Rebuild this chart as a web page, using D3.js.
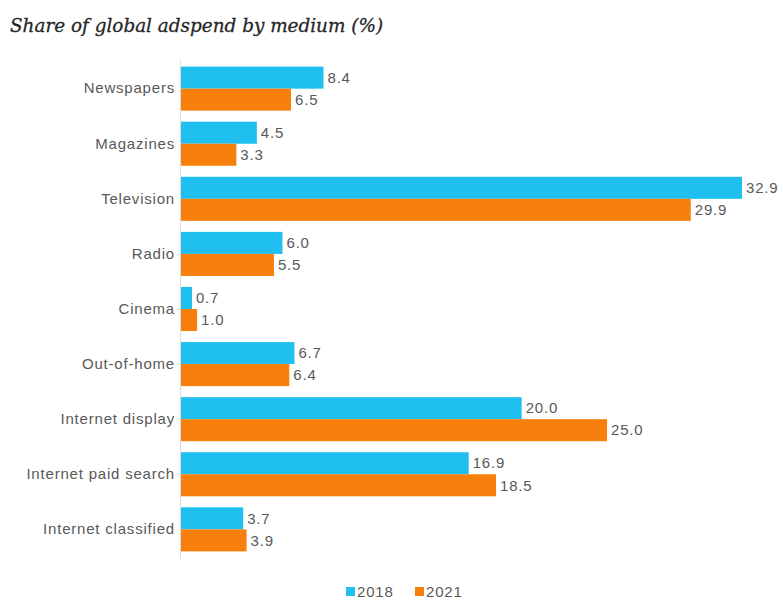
<!DOCTYPE html>
<html>
<head>
<meta charset="utf-8">
<script src="https://cdn.jsdelivr.net/npm/d3@7"></script>
<style>
  body { margin: 0; background: #fff; }
</style>
</head>
<body>
<svg id="chart" width="783" height="601"></svg>
<script>
const categories = ["Newspapers", "Magazines", "Television", "Radio", "Cinema", "Out-of-home", "Internet display", "Internet paid search", "Internet classified"];
const values2018 = [8.4, 4.5, 32.9, 6.0, 0.7, 6.7, 20.0, 16.9, 3.7];
const values2021 = [6.5, 3.3, 29.9, 5.5, 1.0, 6.4, 25.0, 18.5, 3.9];
const seriesKeys = ["2018", "2021"];
const colors = ["#1fc0f0", "#f77f0b"];

const data = categories.map((c, i) => ({ name: c, "2018": values2018[i], "2021": values2021[i] }));

const svg = d3.select("#chart"),
    margin = { top: 60, right: 40, bottom: 43, left: 180 },
    width = +svg.attr("width") - margin.left - margin.right,
    height = +svg.attr("height") - margin.top - margin.bottom,
    g = svg.append("g").attr("transform", "translate(" + margin.left + "," + margin.top + ")");

const labelFont = "'Liberation Sans', Arial, sans-serif";

// title
svg.append("text")
    .attr("x", 10)
    .attr("y", 32)
    .attr("font-family", "'DejaVu Serif', serif")
    .attr("font-style", "italic")
    .attr("font-size", 18.4)
    .attr("fill", "#262626")
    .attr("stroke", "#262626")
    .attr("stroke-width", 0.3)
    .text("Share of global adspend by medium (%)");

const y0 = d3.scaleBand()
    .domain(categories)
    .range([0, height])
    .paddingInner(0.2)
    .paddingOuter(0.12);

const y1 = d3.scaleBand()
    .domain(seriesKeys)
    .range([0, y0.bandwidth()]);

const x = d3.scaleLinear()
    .domain([0, 32.9])
    .range([0, 562]);

const color = d3.scaleOrdinal().domain(seriesKeys).range(colors);

const groups = g.append("g")
  .selectAll("g")
  .data(data)
  .enter().append("g")
    .attr("transform", d => "translate(0," + y0(d.name) + ")");

groups.selectAll("rect")
  .data(d => seriesKeys.map(k => ({ key: k, value: d[k] })))
  .enter().append("rect")
    .attr("x", 0)
    .attr("y", d => y1(d.key))
    .attr("width", d => x(d.value))
    .attr("height", y1.bandwidth())
    .attr("fill", d => color(d.key));

groups.selectAll("text")
  .data(d => seriesKeys.map(k => ({ key: k, value: d[k] })))
  .enter().append("text")
    .attr("x", d => x(d.value) + 4)
    .attr("y", d => y1(d.key) + y1.bandwidth() / 2)
    .attr("dy", "0.35em")
    .attr("font-family", labelFont)
    .attr("font-size", 15)
    .attr("letter-spacing", 0.8)
    .attr("fill", "#595959")
    .text(d => d3.format(".1f")(d.value));

// category axis
const yAxis = g.append("g")
    .call(d3.axisLeft(y0).tickSize(0).tickPadding(5));
yAxis.select(".domain").attr("stroke", "#ddd");
yAxis.selectAll("text")
    .attr("font-family", labelFont)
    .attr("font-size", 15)
    .attr("letter-spacing", 0.8)
    .attr("fill", "#595959");

// legend
const legend = svg.append("g")
    .attr("transform", "translate(346,597)")
  .selectAll("g")
  .data(seriesKeys)
  .enter().append("g")
    .attr("transform", (d, i) => "translate(" + i * 69 + ",0)");

legend.append("rect")
    .attr("x", 0)
    .attr("y", -10)
    .attr("width", 9)
    .attr("height", 9)
    .attr("fill", d => color(d));

legend.append("text")
    .attr("x", 11)
    .attr("y", 0)
    .attr("font-family", labelFont)
    .attr("font-size", 15)
    .attr("letter-spacing", 0.8)
    .attr("fill", "#595959")
    .text(d => d);
</script>
</body>
</html>
